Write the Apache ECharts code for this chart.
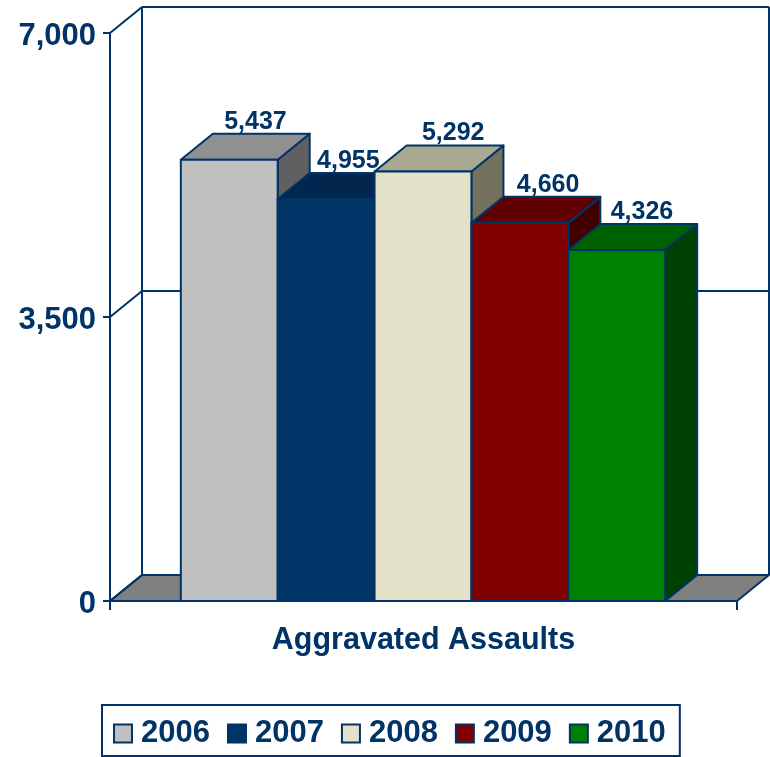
<!DOCTYPE html>
<html>
<head>
<meta charset="utf-8">
<style>html,body{margin:0;padding:0;background:#fff}#c{width:770px;height:757px}</style>
<script src="https://cdn.jsdelivr.net/npm/echarts@6/dist/echarts.min.js"></script>
</head>
<body>
<div id="c"></div>
<script>
const categories = ['Aggravated Assaults'];
const years = ['2006', '2007', '2008', '2009', '2010'];
const values2006 = [5437];
const values2007 = [4955];
const values2008 = [5292];
const values2009 = [4660];
const values2010 = [4326];
const yTicks = [0, 3500, 7000];

const allValues = [values2006, values2007, values2008, values2009, values2010];
const frontColors = ['#c0c0c0', '#003366', '#e3e1c8', '#800000', '#008000'];
const topColors = ['#909090', '#02264d', '#a9a890', '#600000', '#006000'];
const sideColors = ['#606060', '#001f3f', '#74725f', '#400000', '#004000'];
const labelNudge = [-1, -5, 3, 1, -2];

const NAVY = '#003366';
const DX = 32, DY = 26, BAR_SHARE = 0.1545;
const lineStyle = { stroke: NAVY, lineWidth: 2, lineJoin: 'miter' };

function poly(points, fill, z) {
  return { type: 'polygon', z2: z || 0, shape: { points }, style: { fill, stroke: NAVY, lineWidth: 2, lineJoin: 'round' } };
}
function line(x1, y1, x2, y2) {
  return { type: 'line', shape: { x1, y1, x2, y2 }, style: lineStyle };
}

function renderFrame(params, api) {
  const band = api.size([1, 0])[0];
  const cx = api.coord([0, 0])[0];
  const L = cx - band / 2, R = cx + band / 2;
  const y0 = api.coord([0, 0])[1];
  const yMax = api.coord([0, yTicks[yTicks.length - 1]])[1];
  const kids = [
    poly([[L, y0], [L + DX, y0 - DY], [R + DX, y0 - DY], [R, y0]], '#808080'),
    line(L + DX, y0 - DY, L + DX, yMax - DY),
    line(R + DX, y0 - DY, R + DX, yMax - DY)
  ];
  yTicks.forEach(v => {
    const y = api.coord([0, v])[1];
    kids.push(line(L, y, L + DX, y - DY));
    if (v > 0) kids.push(line(L + DX, y - DY, R + DX, y - DY));
  });
  return { type: 'group', children: kids };
}

function makeBarRenderer(idx) {
  return function (params, api) {
    const value = api.value(1);
    const band = api.size([1, 0])[0];
    const w = band * BAR_SHARE;
    const cx = api.coord([0, 0])[0] - 0.5;
    const x0 = cx - 2.5 * w + idx * w, x1 = x0 + w;
    const yB = api.coord([0, 0])[1], yT = api.coord([0, value])[1];
    return {
      type: 'group',
      children: [
        poly([[x1, yB], [x1 + DX, yB - DY], [x1 + DX, yT - DY], [x1, yT]], sideColors[idx]),
        poly([[x0, yT], [x0 + DX, yT - DY], [x1 + DX, yT - DY], [x1, yT]], topColors[idx]),
        poly([[x0, yB], [x1, yB], [x1, yT], [x0, yT]], frontColors[idx]),
        {
          type: 'text',
          style: {
            x: (x0 + x1) / 2 + DX * 0.85 + labelNudge[idx],
            y: yT - DY - 12,
            text: value.toLocaleString('en-US'),
            fill: NAVY,
            font: 'bold 25px "Liberation Sans", Arial, sans-serif',
            align: 'center',
            verticalAlign: 'middle'
          }
        }
      ]
    };
  };
}

const series = [{
  type: 'custom',
  name: 'frame',
  silent: true,
  data: [[0, 0]],
  encode: { x: 0, y: 1 },
  renderItem: renderFrame
}];
years.forEach((y, i) => {
  series.push({
    type: 'custom',
    name: y,
    itemStyle: { color: frontColors[i], borderColor: NAVY, borderWidth: 2 },
    data: allValues[i].map((v, k) => [k, v]),
    encode: { x: 0, y: 1 },
    renderItem: makeBarRenderer(i)
  });
});

const chart = echarts.init(document.getElementById('c'), null, { renderer: 'canvas' });
chart.setOption({
  animation: false,
  backgroundColor: '#fff',
  grid: { left: 110, right: 33, top: 33, bottom: 156, containLabel: false },
  xAxis: {
    type: 'category',
    data: categories,
    axisLine: { lineStyle: { color: NAVY, width: 2 } },
    axisTick: { show: true, length: 9, lineStyle: { color: NAVY, width: 2 } },
    axisLabel: { color: NAVY, fontFamily: '"Liberation Sans", Arial, sans-serif', fontWeight: 'bold', fontSize: 30.5, margin: 24 }
  },
  yAxis: {
    type: 'value',
    min: 0,
    max: 7000,
    interval: 3500,
    splitLine: { show: false },
    axisLine: { show: true, lineStyle: { color: NAVY, width: 2 } },
    axisTick: { show: true, length: 7, lineStyle: { color: NAVY, width: 2 } },
    axisLabel: {
      color: NAVY, fontFamily: '"Liberation Sans", Arial, sans-serif', fontWeight: 'bold', fontSize: 31, margin: 14,
      verticalAlign: 'top',
      lineHeight: 6,
      formatter: v => v.toLocaleString('en-US')
    }
  },
  legend: {
    data: years,
    left: 102,
    top: 705,
    orient: 'horizontal',
    icon: 'rect',
    itemWidth: 18,
    itemHeight: 18,
    itemGap: 17,
    padding: [13, 14, 7, 11],
    borderColor: NAVY,
    borderWidth: 2,
    selectedMode: false,
    textStyle: { color: NAVY, fontFamily: '"Liberation Sans", Arial, sans-serif', fontWeight: 'bold', fontSize: 31, padding: [5, 0, 0, 4] }
  },
  series
});
</script>
</body>
</html>
